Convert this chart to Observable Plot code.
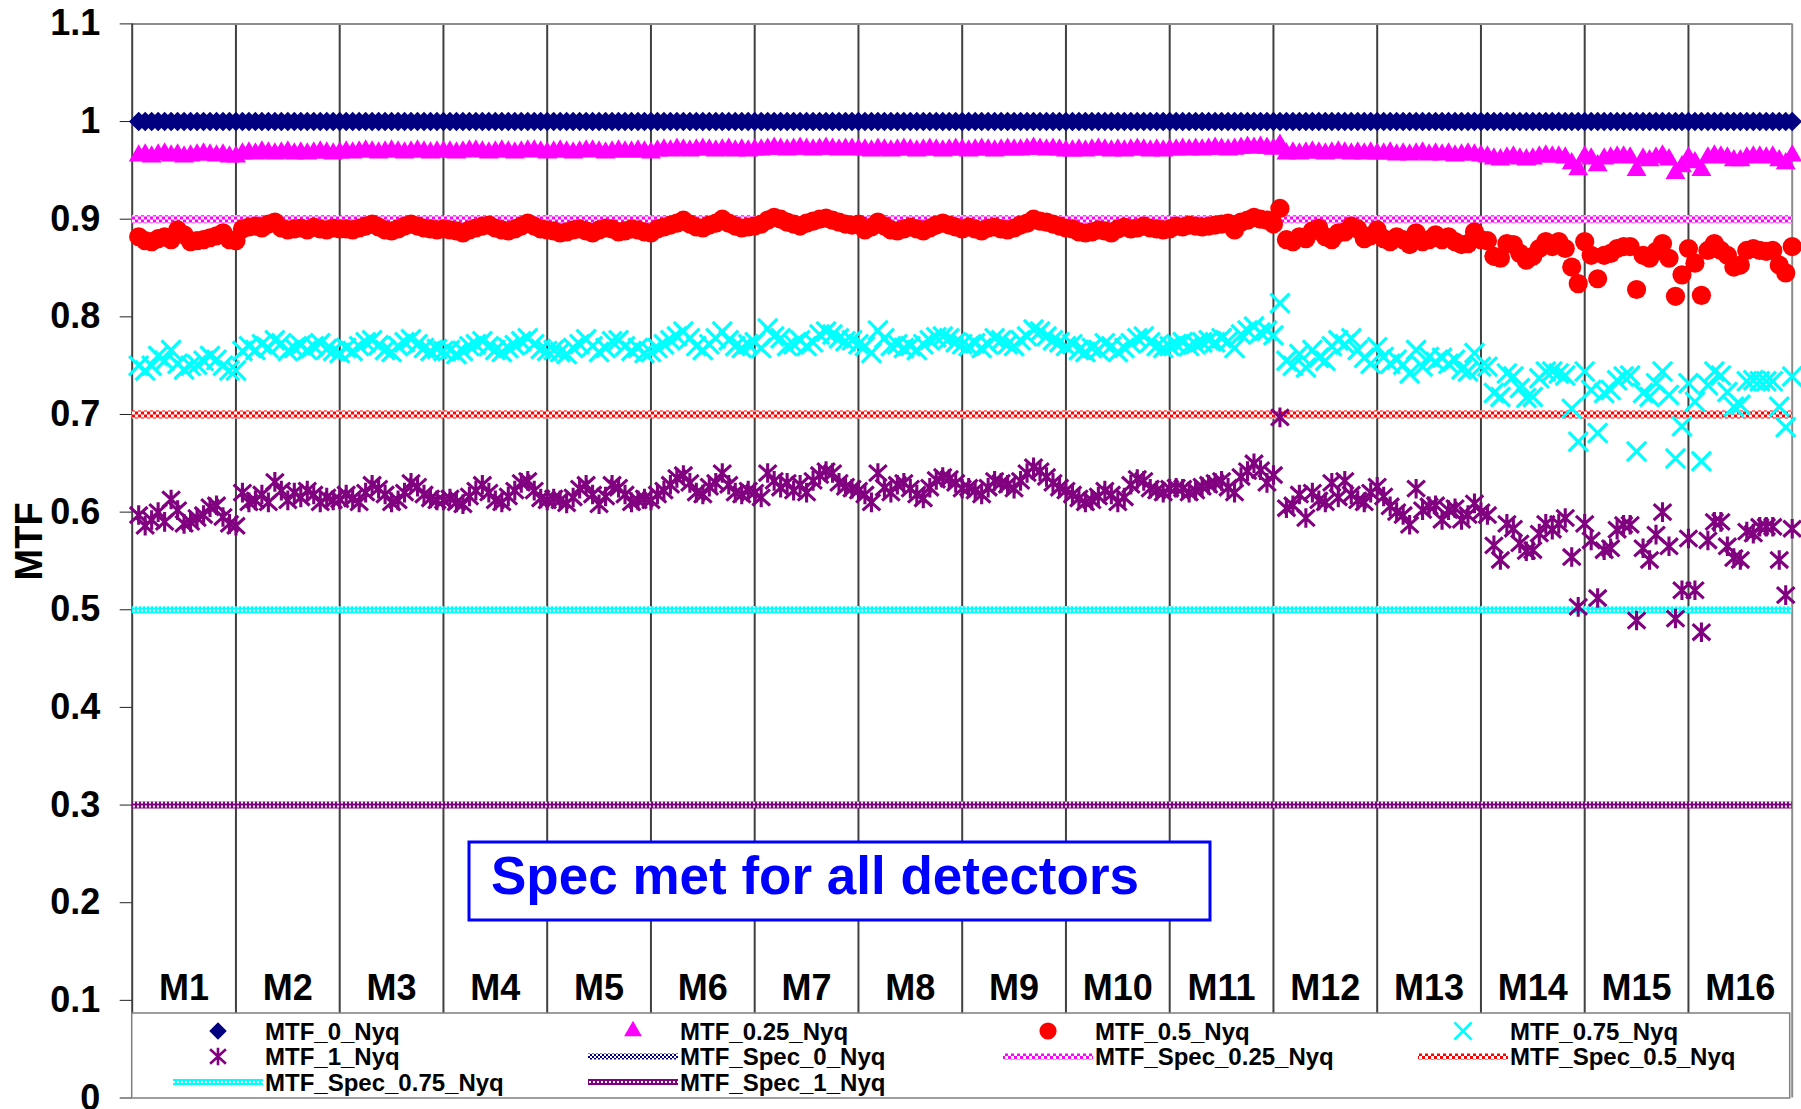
<!DOCTYPE html>
<html><head><meta charset="utf-8">
<script src="https://cdn.jsdelivr.net/npm/d3@7"></script>
<script src="https://cdn.jsdelivr.net/npm/@observablehq/plot@0.6"></script>
<style>
body{margin:0;background:#fff;}
#wrap{position:relative;width:1801px;height:1109px;overflow:hidden;font-family:"Liberation Sans",Arial,sans-serif;}
#wrap svg{position:absolute;left:0;top:0;}
</style></head><body><div id="wrap"></div>
<script>
// ---------------- DATA ----------------
const bands = ["M1","M2","M3","M4","M5","M6","M7","M8","M9","M10","M11","M12","M13","M14","M15","M16"];
const yTicks = [0,0.1,0.2,0.3,0.4,0.5,0.6,0.7,0.8,0.9,1,1.1];
const yTickLabels = ["0","0.1","0.2","0.3","0.4","0.5","0.6","0.7","0.8","0.9","1","1.1"];
const bandEdges = [0,16,32,48,64,80,96,112,128,144,160,176,192,208,224,240,256];

// MTF_Spec values (0, 0.25, 0.5, 0.75, 1 Nyquist)
const specNames = ["MTF_Spec_0_Nyq","MTF_Spec_0.25_Nyq","MTF_Spec_0.5_Nyq","MTF_Spec_0.75_Nyq","MTF_Spec_1_Nyq"];
const specValues = [1.0, 0.9, 0.7, 0.5, 0.3];

// 16 detectors per band, 256 detectors
const mtf0 = [
1,1,1,1,1,1,1,1,1,1,1,1,1,1,1,1,
1,1,1,1,1,1,1,1,1,1,1,1,1,1,1,1,
1,1,1,1,1,1,1,1,1,1,1,1,1,1,1,1,
1,1,1,1,1,1,1,1,1,1,1,1,1,1,1,1,
1,1,1,1,1,1,1,1,1,1,1,1,1,1,1,1,
1,1,1,1,1,1,1,1,1,1,1,1,1,1,1,1,
1,1,1,1,1,1,1,1,1,1,1,1,1,1,1,1,
1,1,1,1,1,1,1,1,1,1,1,1,1,1,1,1,
1,1,1,1,1,1,1,1,1,1,1,1,1,1,1,1,
1,1,1,1,1,1,1,1,1,1,1,1,1,1,1,1,
1,1,1,1,1,1,1,1,1,1,1,1,1,1,1,1,
1,1,1,1,1,1,1,1,1,1,1,1,1,1,1,1,
1,1,1,1,1,1,1,1,1,1,1,1,1,1,1,1,
1,1,1,1,1,1,1,1,1,1,1,1,1,1,1,1,
1,1,1,1,1,1,1,1,1,1,1,1,1,1,1,1,
1,1,1,1,1,1,1,1,1,1,1,1,1,1,1,1
];
const mtf025 = [
0.965,0.966,0.964,0.966,0.967,0.965,0.966,0.964,0.965,0.966,0.967,0.966,0.965,0.966,0.964,0.964,
0.967,0.968,0.967,0.969,0.968,0.967,0.968,0.969,0.967,0.968,0.967,0.968,0.969,0.968,0.967,0.968,
0.969,0.968,0.969,0.970,0.969,0.968,0.969,0.970,0.969,0.968,0.969,0.970,0.969,0.968,0.969,0.969,
0.969,0.968,0.969,0.970,0.970,0.969,0.968,0.969,0.970,0.969,0.968,0.969,0.970,0.970,0.969,0.968,
0.969,0.970,0.969,0.968,0.969,0.970,0.970,0.969,0.968,0.969,0.970,0.969,0.969,0.970,0.969,0.968,
0.970,0.971,0.970,0.972,0.971,0.970,0.971,0.972,0.971,0.970,0.971,0.972,0.970,0.971,0.970,0.971,
0.971,0.972,0.973,0.972,0.971,0.972,0.973,0.972,0.971,0.972,0.973,0.972,0.971,0.972,0.972,0.971,
0.971,0.970,0.972,0.971,0.970,0.971,0.972,0.971,0.970,0.971,0.972,0.971,0.970,0.971,0.972,0.971,
0.970,0.971,0.972,0.971,0.970,0.971,0.972,0.971,0.971,0.972,0.973,0.972,0.971,0.972,0.971,0.970,
0.970,0.971,0.970,0.971,0.972,0.971,0.970,0.971,0.970,0.971,0.972,0.971,0.970,0.971,0.970,0.971,
0.971,0.972,0.971,0.972,0.971,0.972,0.973,0.972,0.971,0.972,0.973,0.974,0.973,0.974,0.973,0.972,
0.976,0.967,0.968,0.967,0.968,0.969,0.968,0.967,0.968,0.969,0.968,0.967,0.968,0.967,0.968,0.967,
0.967,0.968,0.966,0.967,0.966,0.967,0.968,0.966,0.967,0.966,0.967,0.965,0.966,0.967,0.966,0.965,
0.964,0.962,0.961,0.963,0.964,0.962,0.961,0.962,0.964,0.965,0.964,0.964,0.963,0.957,0.951,0.964,
0.962,0.955,0.962,0.963,0.964,0.964,0.963,0.950,0.962,0.960,0.963,0.965,0.961,0.947,0.954,0.963,
0.958,0.950,0.963,0.965,0.964,0.963,0.960,0.960,0.963,0.964,0.964,0.963,0.964,0.960,0.957,0.965
];
const mtf05 = [
0.882,0.878,0.877,0.880,0.882,0.879,0.889,0.884,0.877,0.878,0.879,0.881,0.883,0.886,0.879,0.878,
0.890,0.892,0.893,0.891,0.895,0.897,0.891,0.889,0.890,0.891,0.889,0.892,0.890,0.889,0.891,0.890,
0.890,0.889,0.891,0.893,0.895,0.892,0.889,0.888,0.890,0.893,0.895,0.893,0.891,0.890,0.889,0.890,
0.889,0.888,0.886,0.889,0.891,0.893,0.894,0.891,0.889,0.888,0.890,0.893,0.896,0.893,0.890,0.889,
0.888,0.886,0.887,0.889,0.890,0.888,0.886,0.889,0.891,0.890,0.887,0.888,0.890,0.889,0.887,0.886,
0.890,0.892,0.894,0.896,0.899,0.895,0.892,0.891,0.894,0.896,0.900,0.896,0.893,0.891,0.892,0.893,
0.895,0.899,0.902,0.900,0.897,0.895,0.893,0.896,0.898,0.900,0.901,0.899,0.897,0.895,0.894,0.895,
0.889,0.892,0.897,0.893,0.889,0.888,0.890,0.892,0.890,0.888,0.891,0.894,0.896,0.894,0.892,0.890,
0.892,0.890,0.888,0.891,0.892,0.890,0.889,0.891,0.894,0.896,0.900,0.898,0.897,0.895,0.893,0.891,
0.890,0.887,0.886,0.887,0.889,0.888,0.886,0.890,0.892,0.890,0.891,0.893,0.891,0.890,0.889,0.890,
0.893,0.892,0.894,0.893,0.892,0.893,0.894,0.895,0.896,0.889,0.897,0.899,0.902,0.900,0.899,0.895,
0.911,0.879,0.877,0.882,0.880,0.888,0.891,0.882,0.879,0.886,0.887,0.893,0.890,0.880,0.883,0.889,
0.880,0.877,0.882,0.879,0.874,0.886,0.877,0.879,0.884,0.879,0.882,0.877,0.874,0.875,0.887,0.879,
0.878,0.862,0.860,0.875,0.874,0.865,0.858,0.862,0.870,0.877,0.872,0.877,0.870,0.851,0.834,0.877,
0.863,0.839,0.863,0.865,0.870,0.872,0.872,0.828,0.863,0.860,0.867,0.875,0.860,0.821,0.843,0.870,
0.855,0.822,0.868,0.875,0.868,0.863,0.851,0.853,0.868,0.870,0.868,0.867,0.868,0.853,0.845,0.872
];
const mtf075 = [
0.750,0.745,0.750,0.760,0.755,0.766,0.752,0.746,0.750,0.751,0.755,0.760,0.756,0.750,0.745,0.745,
0.765,0.770,0.766,0.772,0.768,0.776,0.773,0.765,0.768,0.771,0.766,0.770,0.773,0.767,0.765,0.763,
0.768,0.765,0.770,0.774,0.776,0.771,0.766,0.764,0.770,0.774,0.777,0.772,0.768,0.765,0.767,0.765,
0.766,0.762,0.765,0.770,0.772,0.775,0.770,0.766,0.764,0.768,0.771,0.775,0.778,0.772,0.767,0.765,
0.766,0.764,0.762,0.768,0.772,0.777,0.770,0.764,0.768,0.775,0.776,0.770,0.765,0.768,0.763,0.764,
0.768,0.772,0.776,0.780,0.785,0.778,0.770,0.766,0.772,0.778,0.785,0.776,0.770,0.768,0.772,0.774,
0.768,0.788,0.780,0.778,0.770,0.772,0.776,0.770,0.774,0.782,0.785,0.782,0.778,0.775,0.776,0.772,
0.770,0.763,0.786,0.778,0.770,0.772,0.768,0.770,0.766,0.772,0.776,0.779,0.780,0.778,0.774,0.772,
0.770,0.773,0.768,0.772,0.778,0.776,0.772,0.770,0.776,0.780,0.787,0.785,0.780,0.776,0.774,0.770,
0.772,0.766,0.764,0.768,0.766,0.773,0.770,0.764,0.768,0.773,0.778,0.780,0.774,0.770,0.768,0.770,
0.772,0.774,0.770,0.772,0.774,0.776,0.774,0.778,0.775,0.768,0.782,0.786,0.790,0.784,0.786,0.781,
0.814,0.755,0.750,0.762,0.748,0.766,0.758,0.755,0.770,0.776,0.772,0.778,0.766,0.758,0.752,0.769,
0.759,0.752,0.756,0.751,0.742,0.766,0.749,0.759,0.754,0.758,0.752,0.756,0.746,0.744,0.763,0.749,
0.749,0.722,0.718,0.742,0.739,0.727,0.717,0.718,0.737,0.744,0.744,0.742,0.740,0.706,0.672,0.744,
0.725,0.681,0.722,0.725,0.735,0.739,0.740,0.662,0.722,0.718,0.732,0.744,0.720,0.655,0.688,0.732,
0.713,0.652,0.730,0.744,0.740,0.723,0.708,0.710,0.734,0.735,0.734,0.734,0.734,0.708,0.687,0.739
];
const mtf1 = [
0.597,0.586,0.592,0.600,0.590,0.613,0.602,0.588,0.590,0.594,0.597,0.605,0.607,0.595,0.588,0.586,
0.620,0.610,0.612,0.618,0.610,0.631,0.622,0.612,0.620,0.615,0.622,0.618,0.610,0.615,0.612,0.613,
0.618,0.614,0.610,0.620,0.628,0.624,0.618,0.610,0.612,0.620,0.630,0.626,0.618,0.614,0.612,0.612,
0.614,0.610,0.608,0.616,0.622,0.628,0.620,0.612,0.610,0.616,0.622,0.630,0.632,0.622,0.614,0.612,
0.614,0.612,0.609,0.615,0.624,0.628,0.618,0.608,0.616,0.628,0.625,0.618,0.610,0.612,0.614,0.612,
0.618,0.622,0.628,0.635,0.638,0.630,0.620,0.618,0.626,0.630,0.640,0.628,0.620,0.618,0.622,0.620,
0.615,0.640,0.632,0.625,0.630,0.622,0.628,0.620,0.632,0.638,0.642,0.640,0.630,0.626,0.624,0.622,
0.618,0.610,0.640,0.625,0.620,0.628,0.630,0.624,0.618,0.614,0.625,0.633,0.636,0.634,0.630,0.624,
0.625,0.622,0.618,0.625,0.632,0.630,0.628,0.624,0.632,0.640,0.646,0.642,0.636,0.630,0.625,0.622,
0.618,0.614,0.610,0.612,0.616,0.622,0.618,0.610,0.615,0.628,0.634,0.632,0.624,0.622,0.620,0.624,
0.625,0.624,0.620,0.622,0.626,0.628,0.630,0.632,0.625,0.620,0.636,0.642,0.650,0.643,0.630,0.638,
0.697,0.604,0.607,0.618,0.594,0.620,0.612,0.610,0.630,0.615,0.632,0.618,0.612,0.610,0.620,0.626,
0.616,0.606,0.600,0.597,0.587,0.624,0.602,0.606,0.607,0.592,0.602,0.604,0.592,0.597,0.609,0.600,
0.597,0.566,0.551,0.588,0.583,0.568,0.560,0.561,0.578,0.588,0.582,0.588,0.594,0.554,0.503,0.588,
0.571,0.512,0.561,0.563,0.582,0.587,0.587,0.489,0.563,0.551,0.577,0.600,0.565,0.491,0.520,0.573,
0.520,0.477,0.571,0.590,0.590,0.565,0.553,0.551,0.580,0.578,0.585,0.585,0.585,0.551,0.515,0.583
];
const seriesNames = ["MTF_0_Nyq","MTF_0.25_Nyq","MTF_0.5_Nyq","MTF_0.75_Nyq","MTF_1_Nyq"];
const noteText = "Spec met for all detectors";

// ---------------- STYLE ----------------
const W = 1801, H = 1109;
const FONT = '"Liberation Sans", Arial, Helvetica, sans-serif';
const COL = {navy:"#000080", mag:"#FF00FF", red:"#FF0000", cyan:"#00FFFF", pur:"#800080"};

const symX = {draw(ctx, size){const r = Math.sqrt(size/Math.PI); ctx.moveTo(-r,-r); ctx.lineTo(r,r); ctx.moveTo(-r,r); ctx.lineTo(r,-r);}};
const symAst = {draw(ctx, size){const r = Math.sqrt(size/Math.PI); const a = r*0.9, b = r*0.82;
  ctx.moveTo(-a,-b); ctx.lineTo(a,b); ctx.moveTo(-a,b); ctx.lineTo(a,-b); ctx.moveTo(0,-r); ctx.lineTo(0,r);}};

const seriesStyle = [
  {data: mtf0,   symbol: "diamond2", r: 8.8, fill: COL.navy, stroke: "none", sw: 0},
  {data: mtf025, symbol: "triangle", r: 7.4, fill: COL.mag,  stroke: "none", sw: 0},
  {data: mtf05,  symbol: "circle",   r: 9.6, fill: COL.red,  stroke: "none", sw: 0},
  {data: mtf075, symbol: symX,       r: 9.6, fill: "none",   stroke: COL.cyan, sw: 3.2},
  {data: mtf1,   symbol: symAst,     r: 9.8, fill: "none",   stroke: COL.pur,  sw: 3.1}
];
const specStyle = [
  {pat: "pNavy", w: 7},
  {pat: "pMag",  w: 8},
  {pat: "pRed",  w: 8},
  {pat: "pCyan", w: 7},
  {pat: "pPur",  w: 7}
];

// ---------------- OVERLAY (patterns, legend, note) ----------------
const overlay = d3.create("svg").attr("width", W).attr("height", H)
  .style("pointer-events","none").attr("font-family", FONT);
const defs = overlay.append("defs");
function checker(id, color, cell){
  const p = defs.append("pattern").attr("id", id).attr("patternUnits","userSpaceOnUse")
    .attr("width", cell*2).attr("height", cell*2);
  p.append("rect").attr("width", cell*2).attr("height", cell*2).attr("fill","#fff");
  p.append("rect").attr("x",0).attr("y",0).attr("width",cell).attr("height",cell).attr("fill",color);
  p.append("rect").attr("x",cell).attr("y",cell).attr("width",cell).attr("height",cell).attr("fill",color);
}
function rings(id, color){
  const p = defs.append("pattern").attr("id", id).attr("patternUnits","userSpaceOnUse")
    .attr("width", 4).attr("height", 4);
  p.append("rect").attr("width", 4).attr("height", 4).attr("fill", color);
  p.append("rect").attr("x",1).attr("y",1).attr("width",2).attr("height",2).attr("fill","#fff");
}
checker("pNavy", COL.navy, 2);
checker("pMag", COL.mag, 3);
checker("pRed", COL.red, 3);
rings("pCyan", COL.cyan);
rings("pPur", COL.pur);

// ---------------- PLOT ----------------
const xPos = (d, i) => i + 1;
const chart = Plot.plot({
  width: W, height: H,
  marginLeft: 131.7, marginRight: 9.3, marginTop: 23.4, marginBottom: 11.5,
  x: {domain: [0, 256], axis: null},
  y: {domain: [0, 1.1], axis: null},
  style: {background: "transparent", fontFamily: FONT, color: "black", overflow: "visible"},
  marks: [
    Plot.ruleX(bandEdges.slice(1, -1), {stroke: "#404040", strokeWidth: 2}),
    Plot.ruleX([bandEdges[bandEdges.length-1]], {stroke: "#8c8c8c", strokeWidth: 2}),
    Plot.ruleY([yTicks[yTicks.length-1]], {stroke: "#8c8c8c", strokeWidth: 2}),
    Plot.ruleX([bandEdges[0]], {stroke: "#404040", strokeWidth: 2}),
    Plot.axisY({ticks: yTicks, tickSize: 12, tickPadding: 20, fontSize: 36, fontWeight: "bold",
      stroke: "#222", tickFormat: d => yTickLabels[yTicks.indexOf(d)], label: null}),
    ...specValues.map((v, k) => Plot.ruleY([v], {stroke: `url(#${specStyle[k].pat})`, strokeWidth: specStyle[k].w})),
    ...seriesStyle.map(s => Plot.dot(s.data, {x: xPos, y: d => d, symbol: s.symbol, r: s.r,
      fill: s.fill, stroke: s.stroke, strokeWidth: s.sw})),
    Plot.text(bands, {x: (d, i) => bandEdges[i] + 8, y: yTicks[1], text: d => d, lineAnchor: "bottom",
      fontSize: 36, fontWeight: "bold", fill: "black"}),
    Plot.text(["MTF"], {frameAnchor: "left", textAnchor: "middle", dx: -102.7, dy: -19.5, rotate: -90, text: d => d,
      fontSize: 38, fontWeight: "bold", fill: "black"})
  ]
});

// legend box
const LG = {x: 131.7, y: 1013, w: 1658, h: 85};
overlay.append("rect").attr("x", LG.x).attr("y", LG.y).attr("width", LG.w).attr("height", LG.h)
  .attr("fill", "#fff").attr("stroke", "#7f7f7f").attr("stroke-width", 1.5);
const legendItems = [
  {name: seriesNames[0], s: 0}, {name: seriesNames[1], s: 1}, {name: seriesNames[2], s: 2}, {name: seriesNames[3], s: 3},
  {name: seriesNames[4], s: 4}, {name: specNames[0], p: 0}, {name: specNames[1], p: 1}, {name: specNames[2], p: 2},
  {name: specNames[3], p: 3}, {name: specNames[4], p: 4}
];
legendItems.forEach((it, k) => {
  const col = k % 4, row = Math.floor(k / 4);
  const tx = 265 + 415 * col;
  const base = 1039.5 + 25.5 * row;
  const cy = base - 8.5;
  if (it.s !== undefined) {
    const st = seriesStyle[it.s];
    const typ = typeof st.symbol === "string" ? ({diamond2: d3.symbolDiamond2, triangle: d3.symbolTriangle, circle: d3.symbolCircle})[st.symbol] : st.symbol;
    overlay.append("path").attr("transform", `translate(${tx - 47},${cy})`)
      .attr("d", d3.symbol(typ, Math.PI * st.r * st.r * 0.8)())
      .attr("fill", st.fill).attr("stroke", st.stroke).attr("stroke-width", st.sw * 0.85);
  } else {
    const sp = specStyle[it.p];
    overlay.append("rect").attr("x", tx - 92).attr("y", cy - 3).attr("width", 90).attr("height", 6)
      .attr("fill", `url(#${sp.pat})`);
  }
  overlay.append("text").attr("x", tx).attr("y", base).attr("font-size", 24).attr("font-weight", "bold")
    .attr("fill", "#000").text(it.name);
});

// note box
overlay.append("rect").attr("x", 469).attr("y", 842).attr("width", 741).attr("height", 78)
  .attr("fill", "#fff").attr("stroke", "#0000FF").attr("stroke-width", 3);
overlay.append("text").attr("x", 491).attr("y", 894).attr("font-size", 53).attr("font-weight", "bold")
  .attr("fill", "#0000FF").text(noteText);

const wrap = document.getElementById("wrap");
wrap.appendChild(chart);
wrap.appendChild(overlay.node());
</script></body></html>
